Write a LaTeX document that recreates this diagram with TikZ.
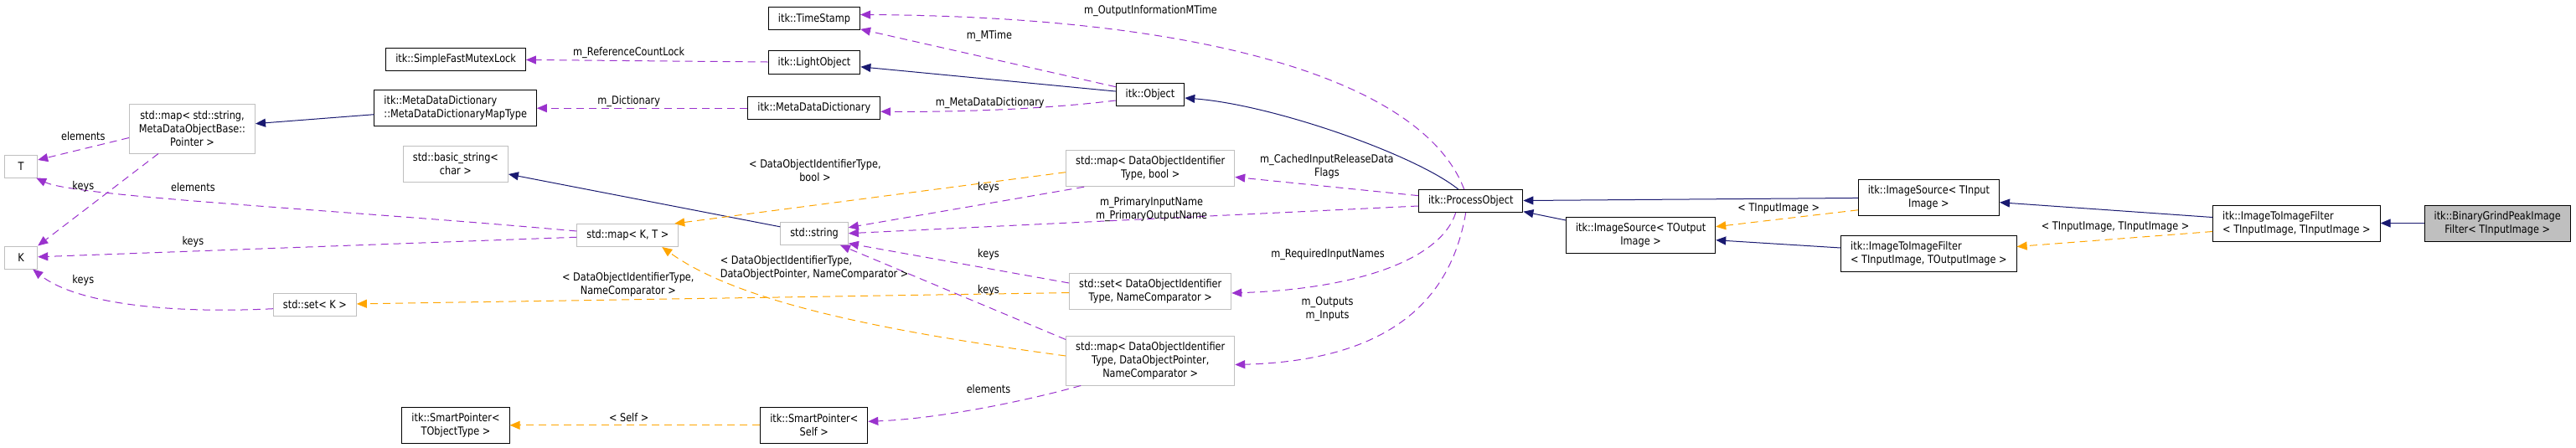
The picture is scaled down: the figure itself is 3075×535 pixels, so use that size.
\documentclass[tikz,border=0pt]{standalone}
\usepackage{fontspec}
\setmainfont{DejaVu Sans}[FakeStretch=0.85]
\usetikzlibrary{arrows.meta}
\definecolor{inhblue}{HTML}{191970}
\definecolor{usepurple}{HTML}{9A32CD}
\definecolor{tplorange}{HTML}{FFA500}
\definecolor{boxgrey}{HTML}{BFBFBF}
\begin{document}
\begin{tikzpicture}[>={Triangle[length=12pt,width=10pt]}, x=1pt, y=-1pt,
    cls/.style={draw=black, line width=1pt, inner xsep=11.5pt, inner ysep=2pt, minimum height=27pt, align=center, font=\fontsize{13.3pt}{16pt}\selectfont},
    ext/.style={cls, draw=boxgrey},
    cur/.style={cls, fill=boxgrey},
    twoline/.style={minimum height=43pt},
    threeline/.style={minimum height=59pt},
    lbl/.style={inner sep=0pt, align=center, font=\fontsize{13.3pt}{16pt}\selectfont},
    inh/.style={->, inhblue, line width=1pt},
    use/.style={->, usepurple, line width=1pt, dash pattern=on 9pt off 6pt},
    tpl/.style={->, tplorange, line width=1pt, dash pattern=on 9pt off 6pt}]
    \useasboundingbox (0,0) rectangle (3075,535);
    % classes
    \node[ext, minimum width=39pt] (T) at (25.2,198.5) {T};
    \node[ext, minimum width=39pt] (K) at (25.2,307.5) {K};
    \node[ext, threeline] (mapstr) at (229.5,153.5) {std::map< std::string,\\ MetaDataObjectBase::\\ Pointer >};
    \node[ext] (setK) at (375.9,363.7) {std::set< K >};
    \node[cls] (mutex) at (544.1,70.7) {itk::SimpleFastMutexLock};
    \node[cls, twoline, align=left] (dictmap) at (543.7,129.2) {itk::MetaDataDictionary\\::MetaDataDictionaryMapType};
    \node[ext, twoline] (bstring) at (543.9,195.8) {std::basic\_string<\\ char >};
    \node[ext] (mapKT) at (749.3,281) {std::map< K, T >};
    \node[cls, twoline] (spT) at (544,507.8) {itk::SmartPointer<\\ TObjectType >};
    \node[cls, twoline] (spSelf) at (971.8,507.8) {itk::SmartPointer<\\ Self >};
    \node[cls] (tstamp) at (972,22.5) {itk::TimeStamp};
    \node[cls] (light) at (972,74.5) {itk::LightObject};
    \node[cls] (dict) at (971.8,129.2) {itk::MetaDataDictionary};
    \node[ext] (string) at (972.1,278.7) {std::string};
    \node[cls] (object) at (1373,113) {itk::Object};
    \node[ext, twoline] (mapbool) at (1373.2,201.2) {std::map< DataObjectIdentifier\\ Type, bool >};
    \node[ext, twoline] (setname) at (1373.2,348) {std::set< DataObjectIdentifier\\ Type, NameComparator >};
    \node[ext, threeline] (mapptr) at (1373.2,430.5) {std::map< DataObjectIdentifier\\ Type, DataObjectPointer,\\ NameComparator >};
    \node[cls] (process) at (1755.7,240) {itk::ProcessObject};
    \node[cls, twoline] (srcin) at (2302.4,235.8) {itk::ImageSource< TInput\\ Image >};
    \node[cls, twoline] (srcout) at (1958.6,281.2) {itk::ImageSource< TOutput\\ Image >};
    \node[cls, twoline, align=left] (filtio) at (2302.4,302.5) {itk::ImageToImageFilter\\< TInputImage, TOutputImage >};
    \node[cls, twoline, align=left] (filtii) at (2741.4,266.5) {itk::ImageToImageFilter\\< TInputImage, TInputImage >};
    \node[cur, twoline] (grind) at (2981.2,266.5) {itk::BinaryGrindPeakImage\\ Filter< TInputImage >};
    % inheritance
    \draw[inh] (dictmap) -- (mapstr);
    \draw[inh] (object) -- (light);
    \draw[inh] ([xshift=-15pt]process.north) .. controls (1690,185) and (1520,125) .. ([yshift=-4pt]object.east);
    \draw[inh] (string) -- (bstring);
    \draw[inh] (srcin) -- (process);
    \draw[inh] (srcout) -- (process);
    \draw[inh] (filtio) -- (srcout);
    \draw[inh] (filtii) -- (srcin);
    \draw[inh] (grind) -- (filtii);
    % members
    \draw[use] ([yshift=-11pt]mapstr.west) -- ([yshift=7.5pt]T.east);
    \draw[use] ([xshift=35pt]mapstr.south west) -- (K.north east);
    \draw[use] ([yshift=5pt]mapKT.west) .. controls (400,250) and (90,235) .. ([xshift=-2pt]T.south east);
    \draw[use] (mapKT) -- (K);
    \draw[use] ([yshift=-5pt]setK.west) .. controls (200,375) and (90,362) .. ([xshift=-6pt]K.south east);
    \draw[use] (light) -- (mutex);
    \draw[use] (object) -- (tstamp);
    \draw[use] ([yshift=-7pt]object.west) .. controls (1250,130) and (1150,134) .. ([yshift=-4pt]dict.east);
    \draw[use] (dict) -- (dictmap);
    \draw[use] ([xshift=-8pt]process.north) .. controls (1700,100) and (1450,20) .. ([yshift=5pt]tstamp.east);
    \draw[use] (process) -- (mapbool);
    \draw[use] ([yshift=-6pt]process.west) -- (string.east);
    \draw[use] ([xshift=22pt]mapbool.south west) -- ([yshift=7pt]string.east);
    \draw[use] ([yshift=10pt]setname.west) -- ([yshift=2pt]string.south east);
    \draw[use] ([yshift=-5pt]mapptr.north west) -- ([xshift=-10pt]string.south east);
    \draw[use] ([xshift=-18pt]process.south) .. controls (1720,310) and (1620,345) .. ([yshift=-2pt]setname.east);
    \draw[use] ([xshift=-6pt]process.south) .. controls (1735,340) and (1680,430) .. ([yshift=-5pt]mapptr.east);
    \draw[use] ([xshift=18pt]mapptr.south west) .. controls (1220,480) and (1120,500) .. ([yshift=4.5pt]spSelf.east);
    % templates
    \draw[tpl] ([yshift=-4.5pt]mapbool.west) -- ([xshift=-5pt]mapKT.north east);
    \draw[tpl] (setname) -- (setK);
    \draw[tpl] ([yshift=5.5pt]mapptr.west) .. controls (1050,395) and (880,360) .. ([xshift=-20pt]mapKT.south east);
    \draw[tpl] (spSelf) -- (spT);
    \draw[tpl] ([yshift=-15pt]srcin.west) -- ([yshift=10.5pt]srcout.east);
    \draw[tpl] ([yshift=-10pt]filtii.west) -- ([yshift=8pt]filtio.east);
    % labels
    \node[lbl] (lElT) at (99.3,163) {elements};
    \node[lbl] (lKeysK) at (99.3,223) {keys};
    \node[lbl] (lElKT) at (230.4,224) {elements};
    \node[lbl] (lKeysKT) at (230.4,288.6) {keys};
    \node[lbl] (lKeysSet) at (99.3,334.7) {keys};
    \node[lbl] (lRef) at (750.7,63) {m\_ReferenceCountLock};
    \node[lbl] (lDict) at (750.7,120.7) {m\_Dictionary};
    \node[lbl] (lTplBool) at (972.9,203.3) {< DataObjectIdentifierType,\\ bool >};
    \node[lbl] (lTplName) at (749.8,339.5) {< DataObjectIdentifierType,\\ NameComparator >};
    \node[lbl, align=left, anchor=west] (lTplPtr) at (859.6,319.5) {< DataObjectIdentifierType,\\DataObjectPointer, NameComparator >};
    \node[lbl] (lSelf) at (750.7,499) {< Self >};
    \node[lbl] (lOutInfo) at (1373.5,13) {m\_OutputInformationMTime};
    \node[lbl] (lMTime) at (1181,43.3) {m\_MTime};
    \node[lbl] (lMDD) at (1181.8,122.7) {m\_MetaDataDictionary};
    \node[lbl] (lKeysBool) at (1180,224.3) {keys};
    \node[lbl] (lPrim) at (1374.5,250.5) {m\_PrimaryInputName\\m\_PrimaryOutputName};
    \node[lbl] (lKeysName) at (1180,304.3) {keys};
    \node[lbl] (lKeysPtr) at (1180,346.7) {keys};
    \node[lbl] (lElPtr) at (1180,464.3) {elements};
    \node[lbl] (lCached) at (1583.9,198.8) {m\_CachedInputReleaseData\\Flags};
    \node[lbl] (lReq) at (1585,304.3) {m\_RequiredInputNames};
    \node[lbl] (lOut) at (1584.6,368.7) {m\_Outputs\\m\_Inputs};
    \node[lbl] (lTIn) at (2123.3,249) {< TInputImage >};
    \node[lbl] (lTII) at (2525,271) {< TInputImage, TInputImage >};
\end{tikzpicture}
\end{document}
